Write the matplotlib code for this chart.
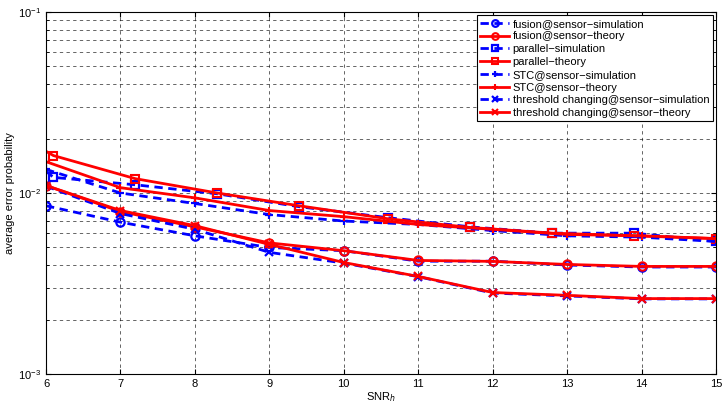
import numpy as np
import matplotlib
matplotlib.use("Agg")
import matplotlib.pyplot as plt

plt.rcParams['font.family'] = ['Liberation Sans', 'DejaVu Sans']

snr = [6, 7, 8, 9, 10, 11, 12, 13, 14, 15]
snr_par = [6.0, 6.1, 7.2, 8.3, 9.4, 10.6, 11.7, 12.8, 13.9, 15.0]

fusion_sim = [0.0085, 0.0069, 0.0058, 0.0050, 0.0048, 0.0042, 0.0042, 0.0040, 0.0039, 0.0039]
fusion_th = [0.0110, 0.0079, 0.0065, 0.0053, 0.0048, 0.00424, 0.00419, 0.00403, 0.00393, 0.00393]
par_sim = [0.0132, 0.0122, 0.0111, 0.0099, 0.0084, 0.0073, 0.0065, 0.0060, 0.0060, 0.0054]
par_th = [0.0170, 0.0161, 0.0120, 0.0100, 0.0085, 0.0072, 0.00645, 0.0060, 0.0058, 0.0056]
stc_sim = [0.0135, 0.0100, 0.00875, 0.0076, 0.0070, 0.0067, 0.0062, 0.0058, 0.0057, 0.0054]
stc_th = [0.0149, 0.0107, 0.0094, 0.0080, 0.0074, 0.0067, 0.0063, 0.0059, 0.0058, 0.0056]
thr_sim = [0.0109, 0.0077, 0.0063, 0.0047, 0.0041, 0.00345, 0.0028, 0.0027, 0.0026, 0.0026]
thr_th = [0.0110, 0.0080, 0.0066, 0.0052, 0.00413, 0.00346, 0.00282, 0.00272, 0.00261, 0.00261]

labels = ['fusion@sensor\u2212simulation', 'fusion@sensor\u2212theory',
          'parallel\u2212simulation', 'parallel\u2212theory',
          'STC@sensor\u2212simulation', 'STC@sensor\u2212theory',
          'threshold changing@sensor\u2212simulation', 'threshold changing@sensor\u2212theory']

fig = plt.figure(figsize=(7.24, 4.04), dpi=100)
ax = fig.add_axes([46/724, 1-374/404, 670/724, 362/404])

sim = dict(color='blue', ls='--', lw=2, dashes=(3, 2), mfc='none', mew=1.6, ms=6)
th = dict(color='red', ls='-', lw=2, mfc='none', mew=1.5, ms=6)
ax.plot(snr, fusion_sim, marker='o', label=labels[0], **sim)
ax.plot(snr, fusion_th, marker='o', label=labels[1], **th)
ax.plot(snr_par, par_sim, marker='s', markevery=list(range(1, 10)), label=labels[2], **sim)
ax.plot(snr_par, par_th, marker='s', markevery=list(range(1, 10)), label=labels[3], **th)
ax.plot(snr, stc_sim, marker='+', label=labels[4], **sim)
ax.plot(snr, stc_th, marker='+', label=labels[5], **th)
ax.plot(snr, thr_sim, marker='x', label=labels[6], **sim)
ax.plot(snr, thr_th, marker='x', label=labels[7], **th)

ax.set_yscale('log')
ax.set_xlim(6, 15)
ax.set_ylim(1e-3, 1e-1)
ax.set_xticks(snr)
ax.grid(True, which='both', color='k', ls=(0, (4, 4)), lw=0.6, alpha=0.7)
ax.tick_params(which='both', direction='in', top=True, right=True, labelsize=8)
ax.set_xlabel('SNR$_h$', fontsize=8, labelpad=1)
ax.set_ylabel('average error probability', fontsize=8, labelpad=2)

leg = ax.legend(loc='upper right', fontsize=8, fancybox=False, edgecolor='k',
                handlelength=2.6, handletextpad=0.3, labelspacing=0.25,
                borderpad=0.3, borderaxespad=0.3, framealpha=1, markerscale=0.8)
leg.get_frame().set_linewidth(0.8)

fig.savefig('out.png', dpi=100)
